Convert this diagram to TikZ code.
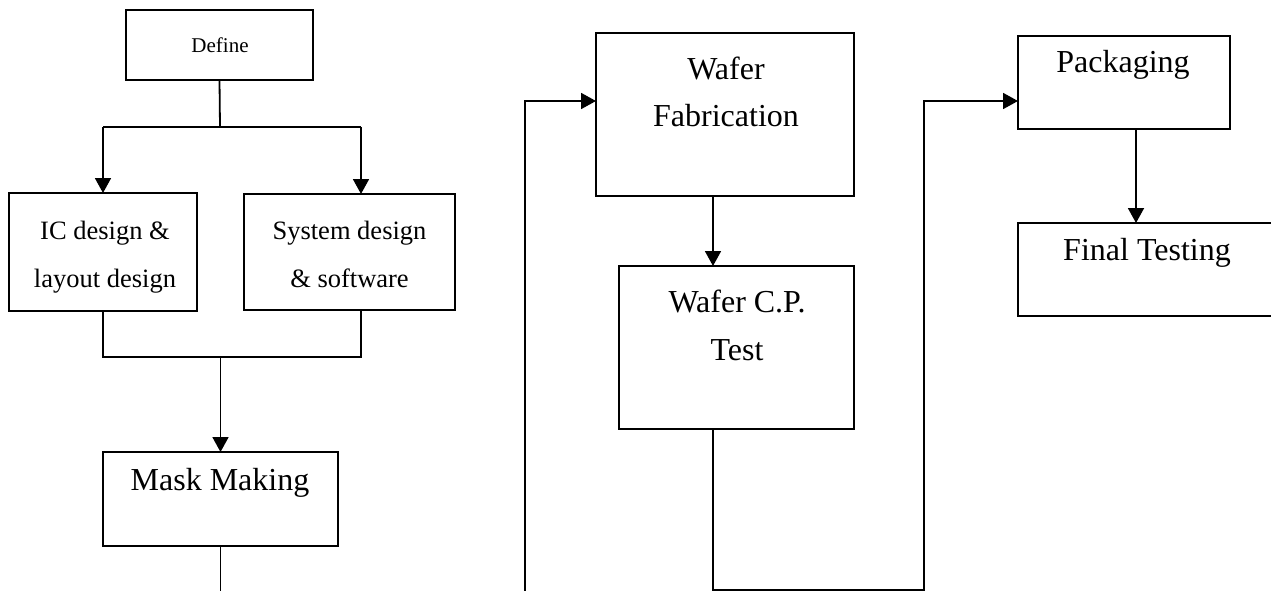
\documentclass[tikz,border=0pt]{standalone}
\usepackage{fontspec}
\setmainfont{Liberation Serif}
\usetikzlibrary{arrows.meta}

\tikzset{
  stage/.style={draw, line width=2.2pt, rectangle, inner sep=0pt, outer sep=0pt},
  wire/.style={line width=1.8pt},
  flow/.style={wire, -{Triangle[length=15pt,width=16pt]}},
  lbl/.style={align=center, anchor=base, inner sep=0pt},
  big/.style={font=\fontsize{32}{47.5}\selectfont},
  mid/.style={font=\fontsize{26.5}{48}\selectfont},
  small/.style={font=\fontsize{21}{25}\selectfont},
}

\begin{document}
\begin{tikzpicture}[x=1pt,y=-1pt]
  \useasboundingbox (0,0) rectangle (1271,591);
  \clip (0,0) rectangle (1271,591);

  % process stages
  \node[stage, minimum width=187pt, minimum height=70pt]  (define) at (219.5,45)   {};
  \node[stage, minimum width=188pt, minimum height=118pt] (ic)     at (103,252)    {};
  \node[stage, minimum width=211pt, minimum height=116pt] (sys)    at (349.5,252)  {};
  \node[stage, minimum width=235pt, minimum height=94pt]  (mask)   at (220.5,499)  {};
  \node[stage, minimum width=258pt, minimum height=163pt] (fab)    at (725,114.5)  {};
  \node[stage, minimum width=235pt, minimum height=163pt] (cp)     at (736.5,347.5){};
  \node[stage, minimum width=212pt, minimum height=93pt]  (pack)   at (1124,82.5)  {};
  \node[stage, minimum width=258pt, minimum height=93pt]  (final)  at (1147,269.5) {};

  % stage labels (base anchor sits on the last line)
  \node[lbl, small] (tdefine) at (220,53)    {Define};
  \node[lbl, mid]   (tic)     at (105,287)   {IC design \&\\layout design};
  \node[lbl, mid]   (tsys)    at (349.5,287) {System design\\\& software};
  \node[lbl, big]   (tmask)   at (220,490)   {Mask Making};
  \node[lbl, big]   (tfab)    at (726,127)   {Wafer\\Fabrication};
  \node[lbl, big]   (tcp)     at (737,360)   {Wafer C.P.\\Test};
  \node[lbl, big]   (tpack)   at (1123,73)   {Packaging};
  \node[lbl, big]   (tfinal)  at (1147,260)  {Final Testing};

  % routing points
  \coordinate (split)  at (220,127);
  \coordinate (splitL) at (103,127);
  \coordinate (splitR) at (361,127);
  \coordinate (joinL)  at (103,357);
  \coordinate (joinR)  at (361,357);
  \coordinate (join)   at (220.5,357);
  \coordinate (maskOut) at (220.5,595);
  \coordinate (loopB)  at (525,595);
  \coordinate (loopT)  at (525,101);
  \coordinate (x713)   at (713,0);
  \coordinate (cpB)    at (713,590);
  \coordinate (hopB)   at (924,590);
  \coordinate (hopT)   at (924,101);
  \coordinate (x1136)  at (1136,0);

  % connectors
  \draw[wire] (define.south) -- (split);
  \draw[wire] (splitL) -- (splitR);
  \draw[flow] (splitL) -- (ic.north);
  \draw[flow] (splitR) -- (splitR |- sys.north);

  \draw[wire] (ic.south) -- (joinL) -- (joinR) -- (joinR |- sys.south);
  \draw[flow] (join) -- (mask.north);
  \draw[wire] (mask.south) -- (maskOut);

  \draw[flow] (loopB) -- (loopT) -- (loopT -| fab.west);
  \draw[flow] (x713 |- fab.south) -- (x713 |- cp.north);
  \draw[flow] (x713 |- cp.south) -- (cpB) -- (hopB) -- (hopT) -- (hopT -| pack.west);
  \draw[flow] (x1136 |- pack.south) -- (x1136 |- final.north);
\end{tikzpicture}
\end{document}
